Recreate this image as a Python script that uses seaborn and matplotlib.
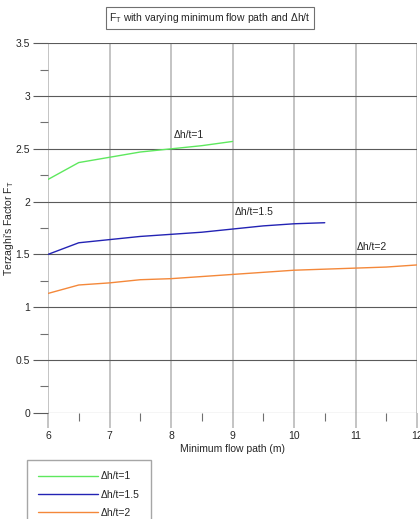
import matplotlib
matplotlib.use("Agg")
import pandas as pd
import seaborn as sns
from matplotlib import pyplot as plt
from matplotlib.ticker import MultipleLocator

# values
flow_path_1 = [6, 6.5, 7, 7.5, 8, 8.5, 9]
ft_1 = [2.21, 2.37, 2.42, 2.47, 2.50, 2.53, 2.57]

flow_path_15 = [6, 6.5, 7, 7.5, 8, 8.5, 9, 9.5, 10, 10.5]
ft_15 = [1.50, 1.61, 1.64, 1.67, 1.69, 1.71, 1.74, 1.77, 1.79, 1.80]

flow_path_2 = [6, 6.5, 7, 7.5, 8, 8.5, 9, 9.5, 10, 10.5, 11, 11.5, 12]
ft_2 = [1.13, 1.21, 1.23, 1.26, 1.27, 1.29, 1.31, 1.33, 1.35, 1.36, 1.37, 1.38, 1.40]

series_names = ["\u0394h/t=1", "\u0394h/t=1.5", "\u0394h/t=2"]
label_pos = [(8.05, 2.63), (9.04, 1.90), (11.02, 1.57)]
colors = ["#5ee85e", "#2323b4", "#f4883a"]

frames = []
for name, xs, ys in zip(series_names, [flow_path_1, flow_path_15, flow_path_2], [ft_1, ft_15, ft_2]):
    frames.append(pd.DataFrame({"flow": xs, "ft": ys, "series": name}))
data = pd.concat(frames, ignore_index=True)

sns.set_style("white")
plt.rcParams["font.family"] = ["Liberation Sans", "DejaVu Sans"]
plt.rcParams["mathtext.fontset"] = "custom"
plt.rcParams["mathtext.rm"] = "Liberation Sans"

fs = 7.5
fig = plt.figure(figsize=(4.2, 5.19), dpi=100)
ax = fig.add_axes([48 / 420, 1 - 412.7 / 519, 369 / 420, 369.4 / 519])

sns.lineplot(data, x="flow", y="ft", hue="series", palette=colors, ax=ax, linewidth=1.0, legend=False)

ax.set_xlim(6, 12)
ax.set_ylim(0, 3.5)
ax.xaxis.set_major_locator(MultipleLocator(1))
ax.xaxis.set_minor_locator(MultipleLocator(0.5))
ax.yaxis.set_minor_locator(MultipleLocator(0.25))
ax.set_yticks([0, 0.5, 1, 1.5, 2, 2.5, 3, 3.5])
ax.set_yticklabels(["0", "0.5", "1", "1.5", "2", "2.5", "3", "3.5"])

for s in ax.spines.values():
    s.set_visible(False)

ax.grid(axis="x", which="major", color="#c4c4c4", linewidth=1.4)
ax.grid(axis="y", which="major", color="#5a5a5a", linewidth=0.8)
ax.set_axisbelow(True)

ax.tick_params(axis="x", which="major", direction="out", length=11, width=1.4, color="#c4c4c4",
               labelsize=fs, pad=2, bottom=True)
ax.tick_params(axis="x", which="minor", direction="out", length=6, width=0.8, color="#707070", bottom=True)
ax.tick_params(axis="y", which="major", direction="out", length=11, width=0.8, color="#5a5a5a",
               labelsize=fs, pad=2, left=True)
ax.tick_params(axis="y", which="minor", direction="out", length=6, width=0.8, color="#707070", left=True)

ax.set_xlabel("Minimum flow path (m)", fontsize=fs, labelpad=2)
ax.set_ylabel("Terzaghi's Factor F$_\\mathregular{T}$", fontsize=fs)
ax.yaxis.set_label_coords(-(48 - 16) / 369, 0.5)

for name, (lx, ly) in zip(series_names, label_pos):
    ax.text(lx, ly, name, fontsize=fs, va="center", ha="left")

fig.text(0.5, 1 - 18 / 519, "F$_\\mathregular{T}$ with varying minimum flow path and \u0394h/t",
         ha="center", va="center", fontsize=fs,
         bbox=dict(boxstyle="square,pad=0.35", facecolor="white", edgecolor="#707070", linewidth=0.8))

handles = [plt.Line2D([], [], color=c, linewidth=1.0) for c in colors]
fig.legend(handles, series_names, loc="upper left", bbox_to_anchor=(27 / 420, 1 - 460 / 519),
           fontsize=fs, frameon=True, fancybox=False, edgecolor="#909090", handlelength=5.7,
           labelspacing=0.8, borderpad=1.1, handletextpad=0.3, borderaxespad=0)

fig.savefig("out.png", dpi=100)
